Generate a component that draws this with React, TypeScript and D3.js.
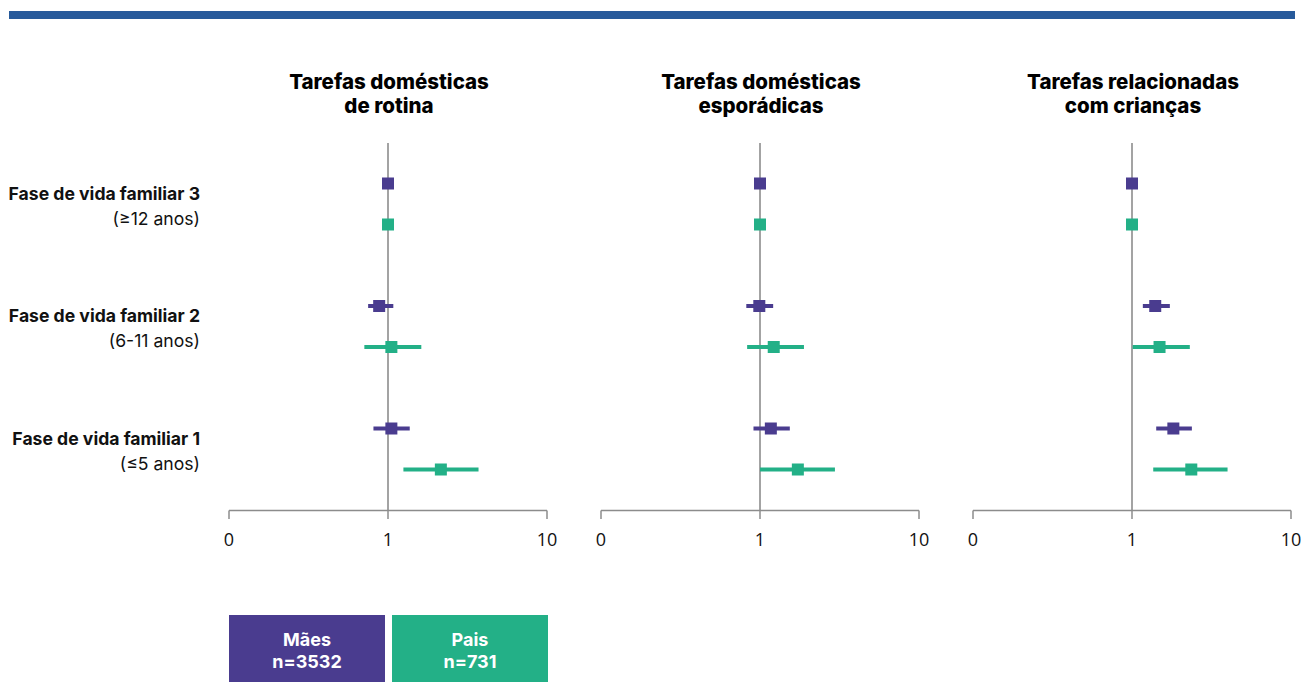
import * as d3 from 'd3';

const titleLine1 = ['Tarefas domésticas', 'Tarefas domésticas', 'Tarefas relacionadas'];
const titleLine2 = ['de rotina', 'esporádicas', 'com crianças'];
const phases = ['Fase de vida familiar 3', 'Fase de vida familiar 2', 'Fase de vida familiar 1'];
const phaseAges = ['(≥12 anos)', '(6-11 anos)', '(≤5 anos)'];
const groups = ['Mães', 'Pais'];
const groupN = ['n=3532', 'n=731'];
const tickValues = [0.1, 1, 10];
const tickLabels = ['0', '1', '10'];

// [panel][phase 3,2,1]
const maesOR = [[1, 0.88, 1.05], [1, 0.99, 1.17], [1, 1.4, 1.82]];
const maesLo = [[1, 0.75, 0.81], [1, 0.82, 0.91], [1, 1.17, 1.42]];
const maesHi = [[1, 1.08, 1.37], [1, 1.21, 1.54], [1, 1.73, 2.38]];
const paisOR = [[1, 1.05, 2.15], [1, 1.22, 1.73], [1, 1.49, 2.36]];
const paisLo = [[1, 0.71, 1.25], [1, 0.83, 1.0], [1, 1.01, 1.36]];
const paisHi = [[1, 1.62, 3.71], [1, 1.89, 2.96], [1, 2.31, 3.99]];

const COLORS = ['#4a3c8f', '#23b087'];
const GRID = '#8c8c8c';
const W = 1301, H = 682;
const PW = 318;
const AXIS_Y = 510.5;
const SQ = 12;

export default function App() {
  const panelX = d3.scalePoint<number>().domain([0, 1, 2]).range([229, 973]);
  const rowY = d3.scalePoint<string>().domain(phases).range([204, 449]);
  const groupOff = d3.scalePoint<string>().domain(groups).range([-20.5, 20.5]);
  const legendX = d3.scaleBand<string>().domain(groups).range([229, 548]).paddingInner(0.043);

  const series = [
    { or: maesOR, lo: maesLo, hi: maesHi },
    { or: paisOR, lo: paisLo, hi: paisHi },
  ];

  return (
    <svg width={W} height={H} style={{ position: 'absolute', left: 0, top: 0, background: '#fff' }}>
      <rect x={9} y={11} width={1286} height={8} fill="#275a9b" />

      {phases.map((p, i) => (
        <g key={p} fontFamily="Inter, sans-serif" fontSize={17.6} fill="#111" textAnchor="end">
          <text x={200} y={(rowY(p) ?? 0) - 4.5} fontWeight={700}>{p}</text>
          <text x={200} y={(rowY(p) ?? 0) + 20.5} fontWeight={400}>{phaseAges[i]}</text>
        </g>
      ))}

      {[0, 1, 2].map(pi => {
        const x0 = panelX(pi) ?? 0;
        const x = d3.scaleLog().domain([0.1, 10]).range([x0, x0 + PW]);
        return (
          <g key={pi}>
            <text x={x(1)} textAnchor="middle" fontFamily="Inter, sans-serif" fontWeight={800}
              fontSize={20.5} fill="#000">
              <tspan x={x(1) + 1} y={88.5}>{titleLine1[pi]}</tspan>
              <tspan x={x(1) + 1} y={112.5}>{titleLine2[pi]}</tspan>
            </text>
            <line x1={x(1)} x2={x(1)} y1={143} y2={AXIS_Y} stroke={GRID} strokeWidth={1.6} />
            <line x1={x(0.1)} x2={x(10)} y1={AXIS_Y} y2={AXIS_Y} stroke={GRID} strokeWidth={1.5} />
            {tickValues.map((t, ti) => (
              <g key={t} transform={`translate(${x(t)},${AXIS_Y})`}>
                <line y1={0} y2={8.5} stroke={GRID} strokeWidth={1.5} />
                <text y={35.5} textAnchor="middle" fontFamily="'Open Sans', sans-serif" fontSize={18} fill="#111">
                  {tickLabels[ti]}
                </text>
              </g>
            ))}
            {series.map((s, gi) => phases.map((p, ri) => {
              const cy = (rowY(p) ?? 0) + (groupOff(groups[gi]) ?? 0);
              const lo = s.lo[pi][ri], hi = s.hi[pi][ri], v = s.or[pi][ri];
              return (
                <g key={`${gi}-${ri}`}>
                  {hi > lo && (
                    <line x1={x(lo)} x2={x(hi)} y1={cy} y2={cy} stroke={COLORS[gi]} strokeWidth={4} />
                  )}
                  <rect x={x(v) - SQ / 2} y={cy - SQ / 2} width={SQ} height={SQ} fill={COLORS[gi]} />
                </g>
              );
            }))}
          </g>
        );
      })}

      {groups.map((g, gi) => {
        const bx = legendX(g) ?? 0;
        const bw = legendX.bandwidth();
        return (
          <g key={g}>
            <rect x={bx} y={615} width={bw} height={H - 615} fill={COLORS[gi]} />
            <text x={bx + bw / 2} textAnchor="middle" fontFamily="Inter, sans-serif" fontWeight={700}
              fontSize={18} fill="#fff">
              <tspan x={bx + bw / 2} y={646}>{g}</tspan>
              <tspan x={bx + bw / 2} y={668}>{groupN[gi]}</tspan>
            </text>
          </g>
        );
      })}
    </svg>
  );
}
